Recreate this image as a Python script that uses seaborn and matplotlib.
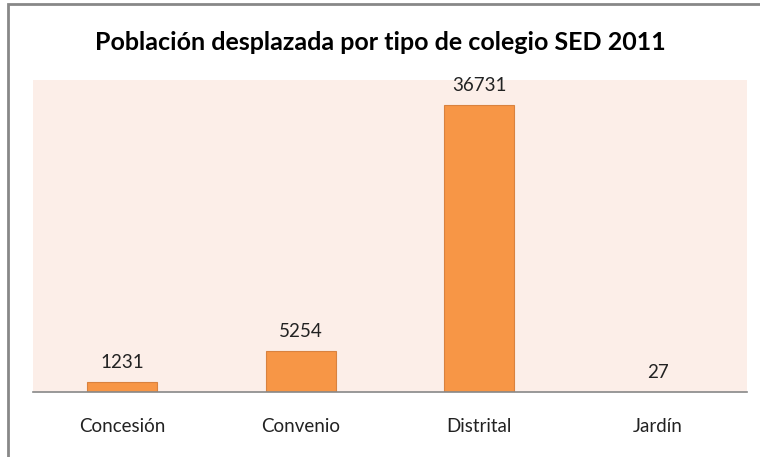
import matplotlib
matplotlib.use("Agg")
import matplotlib.pyplot as plt
import seaborn as sns
import pandas as pd
from matplotlib.patches import Rectangle

# data
categorias = ["Concesión", "Convenio", "Distrital", "Jardín"]
valores = [1231, 5254, 36731, 27]

df = pd.DataFrame({"tipo": categorias, "poblacion": valores})

sns.set_style("white")
plt.rcParams["font.family"] = ["Lato", "DejaVu Sans"]

fig = plt.figure(figsize=(7.6, 4.57), dpi=100)
ax = fig.add_axes([33 / 760, 1 - 392 / 457, 714 / 760, 312 / 457])

sns.barplot(data=df, x="tipo", y="poblacion", ax=ax, color="#F79646",
            saturation=1, width=0.39, edgecolor="#D9823F", linewidth=0.8)

ax.set_facecolor("#FCEEE8")
ax.set_ylim(0, 40000)
ax.set_yticks([])
ax.set_xlabel("")
ax.set_ylabel("")
for s in ["top", "right", "left"]:
    ax.spines[s].set_visible(False)
ax.spines["bottom"].set_color("#888888")
ax.spines["bottom"].set_linewidth(1.2)
ax.tick_params(axis="x", length=0, pad=19, labelsize=13.5, labelcolor="#222222")

for p, v in zip(ax.patches, valores):
    ax.annotate(str(v), (p.get_x() + p.get_width() / 2, p.get_height()),
                xytext=(0, 8), textcoords="offset points",
                ha="center", va="bottom", fontsize=13.5, color="#222222")

fig.text(0.5, 1 - 42 / 457, "Población desplazada por tipo de colegio SED 2011",
         ha="center", va="center", fontsize=18, fontweight="bold", color="black")

# outer chart border (cut off on right and bottom)
fig.patches.append(Rectangle((8 / 760, -0.1), 1.2, 1 - 4 / 457 + 0.1,
                             transform=fig.transFigure, fill=False,
                             edgecolor="#888888", linewidth=2))

fig.savefig("out.png", dpi=100)
